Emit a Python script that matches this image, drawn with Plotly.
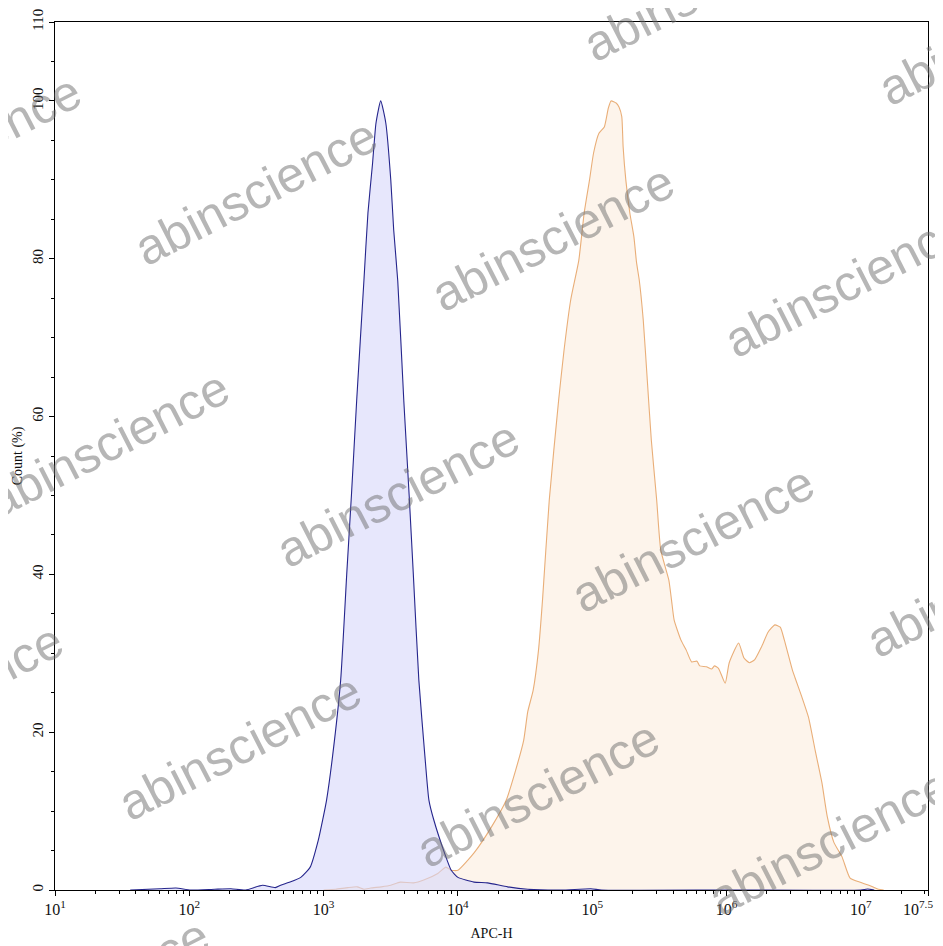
import plotly.graph_objects as go

# ---------------- data ----------------
# log10(APC-H) positions and Count (%) for the two histograms
blue_log_x = [1.56, 1.78, 1.90, 2.01, 2.19, 2.31, 2.42, 2.545, 2.64, 2.68, 2.75, 2.83, 2.90, 2.96, 2.993,
              3.022, 3.067, 3.127, 3.172, 3.207, 3.246, 3.30, 3.33, 3.364, 3.39, 3.425, 3.463, 3.50,
              3.522, 3.552, 3.597, 3.637, 3.668, 3.709, 3.754, 3.784, 3.82, 3.90, 3.95, 4.00, 4.12,
              4.22, 4.37, 4.52, 4.77, 4.99, 5.07, 6.0, 7.0, 7.05, 7.1]
blue_count = [0.0, 0.15, 0.25, 0.0, 0.1, 0.15, 0.0, 0.6, 0.3, 0.6, 1.0, 1.6, 2.9, 6.3, 8.9,
              11.4, 17.0, 26.6, 40.0, 50.0, 62.0, 77.2, 85.8, 92.0, 97.2, 100.0, 97.2, 90.0,
              83.6, 77.2, 62.0, 50.0, 40.0, 26.6, 17.0, 11.4, 8.9, 4.7, 2.5, 1.6, 1.0,
              0.9, 0.4, 0.1, 0.0, 0.15, 0.0, 0.0, 0.0, 0.12, 0.0]

orange_log_x = [3.00, 3.09, 3.18, 3.25, 3.30, 3.35, 3.43, 3.50, 3.57, 3.67, 3.75, 3.85, 3.91, 3.95,
                4.00, 4.12, 4.25, 4.36, 4.43, 4.49, 4.52, 4.56, 4.60, 4.63, 4.68, 4.75, 4.79, 4.84,
                4.90, 4.94, 4.98, 5.01, 5.05, 5.09, 5.12, 5.14, 5.18, 5.20, 5.22, 5.23, 5.25, 5.28,
                5.31, 5.33, 5.35, 5.38, 5.41, 5.44, 5.48, 5.51, 5.57, 5.59, 5.61, 5.66, 5.70, 5.74,
                5.78, 5.80, 5.85, 5.89, 5.91, 5.94, 5.99, 6.02, 6.09, 6.13, 6.17, 6.21, 6.26, 6.31,
                6.36, 6.40, 6.43, 6.49, 6.51, 6.56, 6.61, 6.66, 6.71, 6.75, 6.80, 6.86, 6.92, 6.99,
                7.06, 7.13, 7.17]
orange_count = [0.0, 0.1, 0.3, 0.4, 0.1, 0.25, 0.4, 0.6, 1.0, 0.9, 1.3, 2.1, 2.9, 2.5,
                2.5, 4.7, 8.0, 11.4, 15.2, 19.0, 22.6, 25.3, 30.4, 36.8, 49.4, 62.1, 68.4, 74.8,
                79.8, 85.8, 90.0, 93.4, 95.9, 96.7, 99.1, 100.0, 99.7, 99.2, 98.0, 94.2, 90.0, 85.8,
                82.8, 79.5, 77.3, 72.2, 64.6, 57.0, 49.4, 43.1, 39.3, 36.8, 34.2, 31.7, 30.4, 28.9,
                29.0, 28.4, 28.3, 28.0, 28.4, 28.1, 26.2, 28.8, 31.3, 29.4, 28.8, 29.2, 30.8, 32.7,
                33.6, 33.3, 31.7, 27.9, 26.9, 24.5, 21.9, 17.7, 13.6, 9.3, 6.0, 4.2, 1.5, 1.0,
                0.6, 0.1, 0.0]

blue_x = [10 ** e for e in blue_log_x]
orange_x = [10 ** e for e in orange_log_x]

x_tick_exponents = [1, 2, 3, 4, 5, 6, 7]
x_tick_labels = ["10<sup>1</sup>", "10<sup>2</sup>", "10<sup>3</sup>", "10<sup>4</sup>",
                 "10<sup>5</sup>", "10<sup>6</sup>", "10<sup>7</sup>"]
x_end_exponent = 7.5
x_end_label = "10<sup>7.5</sup>"
y_tick_values = [0, 20, 40, 60, 80, 100, 110]
watermark_text = "abinscience"

# ---------------- figure ----------------
OFF = 8  # page body margin
W, H = 943 - OFF, 946 - OFF
L, T = 55 - OFF, 22 - OFF
R = W - (928 - OFF)
B = H - (890 - OFF)
PW, PH = W - L - R, H - T - B

def px(x, y):
    """page pixel -> paper coordinates"""
    return (x - OFF - L) / PW, (H - B - (y - OFF)) / PH

serif = "Liberation Serif"
xfont = dict(family=serif, size=16, color="#111")
yfont = dict(family=serif, size=15, color="#111")

fig = go.Figure()
fig.add_trace(go.Scatter(x=orange_x, y=orange_count, mode="lines", fill="tozeroy",
                         line=dict(color="#e9ae78", width=1.1, shape="spline", smoothing=0.5),
                         fillcolor="rgba(252,236,222,0.6)", hoverinfo="skip", showlegend=False))
fig.add_trace(go.Scatter(x=blue_x, y=blue_count, mode="lines", fill="tozeroy",
                         line=dict(color="#25258c", width=1.1, shape="spline", smoothing=0.5),
                         fillcolor="rgba(215,215,250,0.6)", hoverinfo="skip", showlegend=False))

# minor tick positions on the log axis
minor_vals = []
for d in range(1, 8):
    for m in range(2, 10):
        v = m * 10 ** d
        if v < 10 ** 7.5:
            minor_vals.append(v)
fig.add_trace(go.Scatter(x=[100], y=[None], xaxis="x2", mode="lines",
                         hoverinfo="skip", showlegend=False))

fig.update_layout(
    width=W, height=H,
    margin=dict(l=L, r=R, t=T, b=B, autoexpand=False),
    paper_bgcolor="white", plot_bgcolor="white",
    font=xfont,
    xaxis=dict(type="log", range=[1, 7.5],
               tickvals=[10 ** e for e in x_tick_exponents] + [10 ** x_end_exponent],
               ticktext=x_tick_labels + [""], ticks="outside", ticklen=5, tickcolor="#000",
               showline=True, linecolor="#000", linewidth=1, mirror=True, automargin=False,
               showgrid=False, zeroline=False, tickfont=xfont,
               title=dict(text="APC-H", font=dict(family=serif, size=14), standoff=10)),
    xaxis2=dict(type="log", range=[1, 7.5], overlaying="x", anchor="y", side="bottom",
                tickvals=minor_vals, ticks="outside", ticklen=3, tickcolor="#000",
                showticklabels=False, showline=False, showgrid=False, zeroline=False),
    yaxis=dict(range=[0, 110], tickvals=y_tick_values, ticks="outside", ticklen=5,
               tickcolor="#000", tickangle=-90, automargin=False,
               minor=dict(dtick=5, tick0=0, ticks="outside", ticklen=3, tickcolor="#000", showgrid=False),
               showline=True, linecolor="#000", linewidth=1, mirror=True,
               showgrid=False, zeroline=False, tickfont=yfont,
               title=dict(text="Count (%)", font=dict(family=serif, size=14), standoff=4)),
)

# end tick label 10^7.5 placed so it stays inside the page
fig.add_annotation(x=x_end_exponent, y=0, xref="x", yref="y", text=x_end_label, showarrow=False,
                   xanchor="center", yanchor="top", yshift=-6, xshift=-10, font=xfont)

# watermark (centres in page pixel positions)
wm_centres = [(705, -12), (1000, 32),
              (-40, 148), (256, 192), (553, 238), (846, 284),
              (108, 444), (398, 494), (693, 539), (988, 584),
              (-58, 697), (240, 747), (538, 794), (830, 842),
              (88, 992)]
for cx, cy in wm_centres:
    xp, yp = px(cx, cy)
    fig.add_annotation(x=xp, y=yp, xref="paper", yref="paper", text=watermark_text,
                       showarrow=False, textangle=-27, xanchor="center", yanchor="middle",
                       font=dict(family="Liberation Sans", size=50, color="rgba(110,110,110,0.5)"))

fig.write_html("out.html")
